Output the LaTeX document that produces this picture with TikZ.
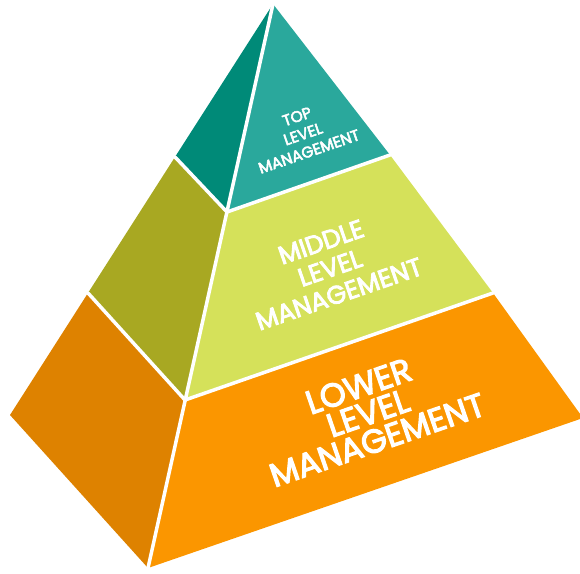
\documentclass[tikz,border=0pt]{standalone}
\usepackage{fontspec}
\newfontfamily\pfont{Poppins}[FakeBold=3.5]
\definecolor{topfront}{RGB}{42,168,156}
\definecolor{topleft}{RGB}{0,138,120}
\definecolor{midfront}{RGB}{213,225,90}
\definecolor{midleft}{RGB}{168,168,34}
\definecolor{lowfront}{RGB}{251,150,0}
\definecolor{lowleft}{RGB}{222,130,0}
\begin{document}
\begin{tikzpicture}[x=1pt,y=-1pt,
  sep/.style={white,line width=3.5pt,line cap=round,line join=round},
  lbl/.style={text=white,align=center,rotate=19,inner sep=0pt}]
\useasboundingbox (0,0) rectangle (580,573);
% vertices
\coordinate (A) at (273,4);
\coordinate (TL) at (175,157);
\coordinate (ML) at (88,293);
\coordinate (L) at (10,415);
\coordinate (TF) at (227,212);
\coordinate (MF) at (185,400);
\coordinate (F) at (148,568);
\coordinate (TR) at (390,155);
\coordinate (MR) at (493,293);
\coordinate (R) at (583,418);
% faces
\fill[topleft] (A) -- (TL) -- (TF) -- cycle;
\fill[topfront] (A) -- (TF) -- (TR) -- cycle;
\fill[midleft] (TL) -- (ML) -- (MF) -- (TF) -- cycle;
\fill[midfront] (TF) -- (MF) -- (MR) -- (TR) -- cycle;
\fill[lowleft] (ML) -- (L) -- (F) -- (MF) -- cycle;
\fill[lowfront] (MF) -- (F) -- (R) -- (MR) -- cycle;
% separators
\draw[sep] (A) -- (F);
\draw[sep] (TL) -- (TF) -- (TR);
\draw[sep] (ML) -- (MF) -- (MR);
% labels
\node[lbl,font=\pfont\fontsize{15.5}{18.5}\selectfont] (toptext) at (303,134) {TOP\\LEVEL\\MANAGEMENT};
\node[lbl,font=\pfont\fontsize{25.5}{27.5}\selectfont] (midtext) at (330,268) {MIDDLE\\LEVEL\\MANAGEMENT};
\node[lbl,font=\pfont\fontsize{33}{28.5}\selectfont] (lowtext) at (368,413) {LOWER\\LEVEL\\MANAGEMENT};
\end{tikzpicture}
\end{document}
